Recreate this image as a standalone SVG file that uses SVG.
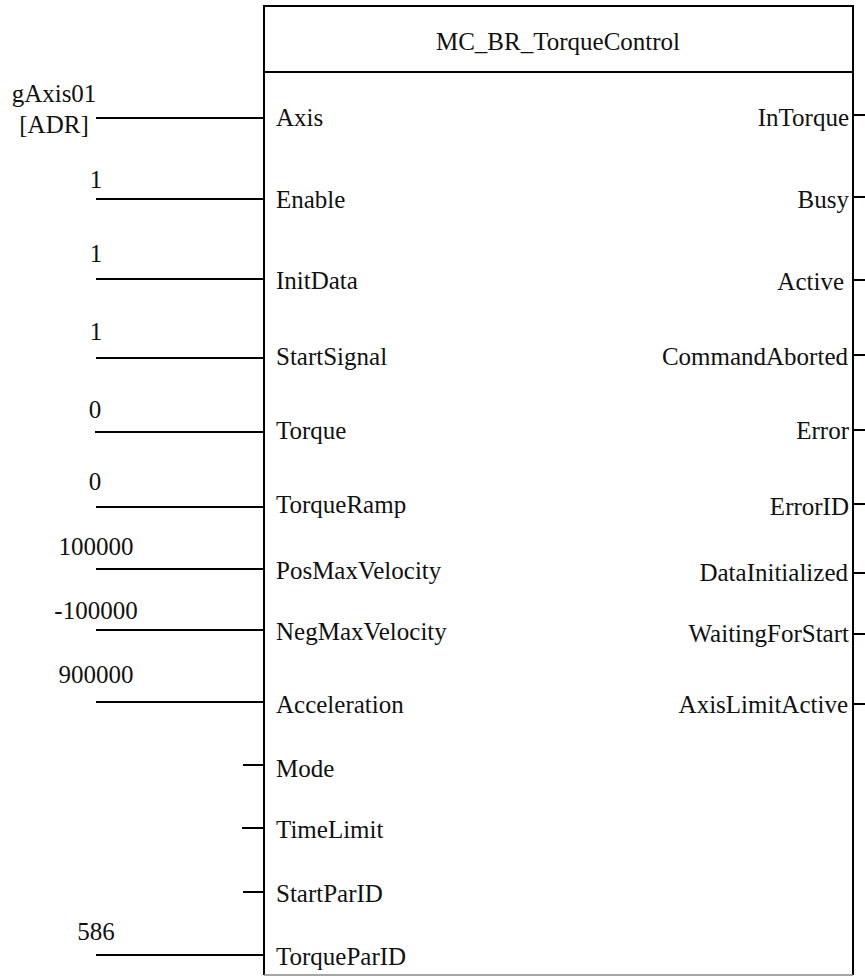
<svg xmlns="http://www.w3.org/2000/svg" width="865" height="976" viewBox="0 0 865 976">
  <style>
    text { font-family: "Liberation Serif", "Tinos", "DejaVu Serif", serif; font-size: 25px; fill: #111; }
    .pin-in { text-anchor: start; }
    .pin-out { text-anchor: end; }
    .val { text-anchor: middle; }
    .wire { stroke: #000; stroke-width: 2; fill: none; }
    .frame { stroke: #000; stroke-width: 2; fill: #fff; }
  </style>
  <rect x="0" y="0" width="865" height="976" fill="#fff"/>

  <!-- Function block -->
  <g id="fb-torque-control" font-family="Liberation Serif, DejaVu Serif, serif">
    <path class="frame" d="M264 975 V6 H853 V975"/>
    <line x1="264" y1="975" x2="853" y2="975" stroke="#888" stroke-width="1.5"/>
    <line class="wire" x1="264" y1="72" x2="853" y2="72"/>
    <text x="558" y="50" text-anchor="middle">MC_BR_TorqueControl</text>
    <!-- inputs -->
    <text class="pin-in" x="276" y="126">Axis</text>
    <text class="pin-in" x="276" y="208">Enable</text>
    <text class="pin-in" x="276" y="289">InitData</text>
    <text class="pin-in" x="276" y="365">StartSignal</text>
    <text class="pin-in" x="276" y="439">Torque</text>
    <text class="pin-in" x="276" y="513">TorqueRamp</text>
    <text class="pin-in" x="276" y="579">PosMaxVelocity</text>
    <text class="pin-in" x="276" y="640">NegMaxVelocity</text>
    <text class="pin-in" x="276" y="713">Acceleration</text>
    <text class="pin-in" x="276" y="777">Mode</text>
    <text class="pin-in" x="276" y="838">TimeLimit</text>
    <text class="pin-in" x="276" y="902">StartParID</text>
    <text class="pin-in" x="276" y="965">TorqueParID</text>
    <!-- outputs -->
    <text class="pin-out" x="849" y="126">InTorque</text>
    <text class="pin-out" x="849" y="208">Busy</text>
    <text class="pin-out" x="844" y="290">Active</text>
    <text class="pin-out" x="848" y="365">CommandAborted</text>
    <text class="pin-out" x="849" y="439">Error</text>
    <text class="pin-out" x="849" y="515">ErrorID</text>
    <text class="pin-out" x="848" y="581">DataInitialized</text>
    <text class="pin-out" x="849" y="642">WaitingForStart</text>
    <text class="pin-out" x="848" y="713">AxisLimitActive</text>
  </g>

  <!-- Input values -->
  <g id="val-axis">
    <text class="val" x="54" y="102">gAxis01</text>
    <text class="val" x="54" y="133">[ADR]</text>
  </g>
  <g id="val-enable"><text class="val" x="96" y="188">1</text></g>
  <g id="val-initdata"><text class="val" x="96" y="262">1</text></g>
  <g id="val-startsignal"><text class="val" x="96" y="340">1</text></g>
  <g id="val-torque"><text class="val" x="95" y="418">0</text></g>
  <g id="val-torqueramp"><text class="val" x="95" y="490">0</text></g>
  <g id="val-posmaxvel"><text class="val" x="96" y="555">100000</text></g>
  <g id="val-negmaxvel"><text class="val" x="96" y="619">-100000</text></g>
  <g id="val-accel"><text class="val" x="96" y="683">900000</text></g>
  <g id="val-torqueparid"><text class="val" x="96" y="940">586</text></g>

  <!-- Connectors -->
  <g id="connectors">
    <line class="wire" x1="96" y1="118" x2="264" y2="118"/>
    <line class="wire" x1="96" y1="199" x2="264" y2="199"/>
    <line class="wire" x1="96" y1="279" x2="264" y2="279"/>
    <line class="wire" x1="96" y1="358" x2="264" y2="358"/>
    <line class="wire" x1="95" y1="432" x2="264" y2="432"/>
    <line class="wire" x1="96" y1="507" x2="264" y2="507"/>
    <line class="wire" x1="96" y1="569" x2="264" y2="569"/>
    <line class="wire" x1="96" y1="630" x2="264" y2="630"/>
    <line class="wire" x1="96" y1="702" x2="264" y2="702"/>
    <line class="wire" x1="243" y1="765" x2="264" y2="765"/>
    <line class="wire" x1="242" y1="828" x2="264" y2="828"/>
    <line class="wire" x1="243" y1="892" x2="264" y2="892"/>
    <line class="wire" x1="96" y1="955" x2="264" y2="955"/>
    <!-- output stubs -->
    <line class="wire" x1="853" y1="115" x2="865" y2="115"/>
    <line class="wire" x1="853" y1="197" x2="865" y2="197"/>
    <line class="wire" x1="853" y1="280" x2="865" y2="280"/>
    <line class="wire" x1="853" y1="355" x2="865" y2="355"/>
    <line class="wire" x1="853" y1="430" x2="865" y2="430"/>
    <line class="wire" x1="853" y1="504" x2="865" y2="504"/>
    <line class="wire" x1="853" y1="573" x2="865" y2="573"/>
    <line class="wire" x1="853" y1="634" x2="865" y2="634"/>
    <line class="wire" x1="853" y1="704" x2="865" y2="704"/>
  </g>
</svg>
